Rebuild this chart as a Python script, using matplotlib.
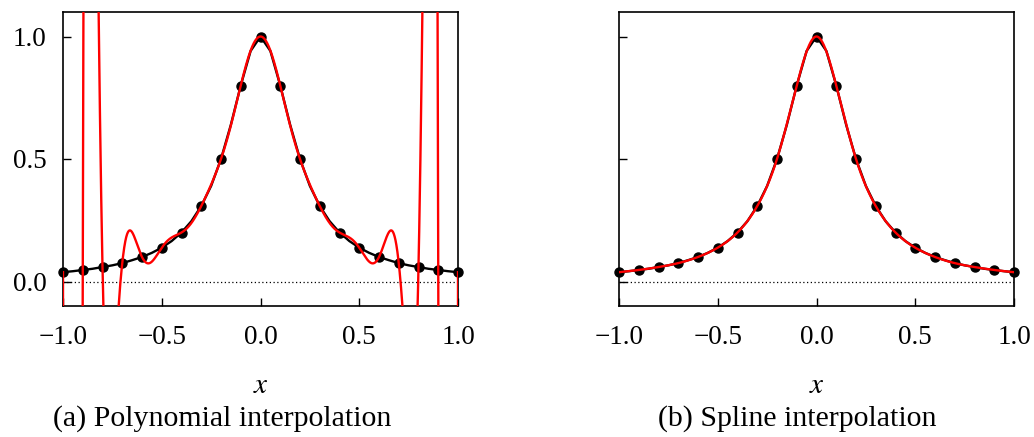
import numpy as np
import matplotlib
matplotlib.use("Agg")
import matplotlib.pyplot as plt

plt.rcParams['font.family'] = ['Liberation Serif', 'DejaVu Serif']
plt.rcParams['mathtext.fontset'] = 'stix'

# interpolation nodes
x_nodes = [-1.0, -0.9, -0.8, -0.7, -0.6, -0.5, -0.4, -0.3, -0.2, -0.1, 0.0,
           0.1, 0.2, 0.3, 0.4, 0.5, 0.6, 0.7, 0.8, 0.9, 1.0]
y_nodes = [0.038, 0.047, 0.059, 0.075, 0.100, 0.138, 0.200, 0.308, 0.500, 0.800, 1.000,
           0.800, 0.500, 0.308, 0.200, 0.138, 0.100, 0.075, 0.059, 0.047, 0.038]

# reference (black) curve, sampled every 0.05
x_ref = [-1.0, -0.95, -0.9, -0.85, -0.8, -0.75, -0.7, -0.65, -0.6, -0.55, -0.5,
         -0.45, -0.4, -0.35, -0.3, -0.25, -0.2, -0.15, -0.1, -0.05, 0.0,
         0.05, 0.1, 0.15, 0.2, 0.25, 0.3, 0.35, 0.4, 0.45, 0.5,
         0.55, 0.6, 0.65, 0.7, 0.75, 0.8, 0.85, 0.9, 0.95, 1.0]
y_ref = [0.038, 0.042, 0.047, 0.052, 0.059, 0.066, 0.075, 0.087, 0.100, 0.117, 0.138,
         0.165, 0.200, 0.246, 0.308, 0.390, 0.500, 0.640, 0.800, 0.941, 1.000,
         0.941, 0.800, 0.640, 0.500, 0.390, 0.308, 0.246, 0.200, 0.165, 0.138,
         0.117, 0.100, 0.087, 0.075, 0.066, 0.059, 0.052, 0.047, 0.042, 0.038]

captions = ['(a) Polynomial interpolation', '(b) Spline interpolation']

xn = np.array(x_nodes)
yn = np.array(y_nodes)
xf = np.linspace(-1, 1, 4001)

# degree-20 polynomial through all nodes
poly = np.polynomial.Polynomial.fit(xn, yn, len(xn) - 1)
y_poly = poly(xf)


def natural_spline(x, y, xe):
    n = len(x)
    h = np.diff(x)
    A = np.zeros((n, n))
    r = np.zeros(n)
    A[0, 0] = A[-1, -1] = 1
    for i in range(1, n - 1):
        A[i, i - 1] = h[i - 1]
        A[i, i] = 2 * (h[i - 1] + h[i])
        A[i, i + 1] = h[i]
        r[i] = 6 * ((y[i + 1] - y[i]) / h[i] - (y[i] - y[i - 1]) / h[i - 1])
    M = np.linalg.solve(A, r)
    k = np.clip(np.searchsorted(x, xe) - 1, 0, n - 2)
    t0 = x[k + 1] - xe
    t1 = xe - x[k]
    hk = h[k]
    return (M[k] * t0**3 / (6 * hk) + M[k + 1] * t1**3 / (6 * hk)
            + (y[k] / hk - M[k] * hk / 6) * t0
            + (y[k + 1] / hk - M[k + 1] * hk / 6) * t1)


y_spl = natural_spline(xn, yn, xf)

fig = plt.figure(figsize=(10.34, 4.37), dpi=100)
ax1 = fig.add_axes([63 / 1034, 1 - 306 / 437, 395 / 1034, 294 / 437])
ax2 = fig.add_axes([619 / 1034, 1 - 306 / 437, 395 / 1034, 294 / 437])

for ax, yi in zip([ax1, ax2], [y_poly, y_spl]):
    ax.axhline(0, color='black', lw=0.9, ls=(0, (1, 2)))
    ax.plot(x_ref, y_ref, color='black', lw=1.7, zorder=2)
    ax.plot(xn, yn, 'o', color='black', ms=6.5, zorder=3, clip_on=False)
    ax.plot(xf, yi, color='#ff0000', lw=1.7, zorder=4)
    ax.set_xlim(-1, 1)
    ax.set_ylim(-0.1, 1.1)
    ax.set_xticks([-1.0, -0.5, 0.0, 0.5, 1.0])
    ax.set_yticks([0.0, 0.5, 1.0])
    ax.tick_params(direction='in', length=6, width=1, labelsize=19.5, pad=14,
                   top=False, right=False)
    for s in ax.spines.values():
        s.set_linewidth(1.2)
    ax.set_xlabel('$x$', fontsize=21, labelpad=16)

ax1.set_yticklabels(['0.0', '0.5', '1.0'])
ax1.tick_params(axis='y', pad=12)
ax2.tick_params(labelleft=False)

# sub-captions
fig.text(222 / 1034, 1 - 419 / 437, captions[0], ha='center', va='center', fontsize=21.5)
fig.text(797 / 1034, 1 - 419 / 437, captions[1], ha='center', va='center', fontsize=21.5)

fig.savefig('out.png', dpi=100)
